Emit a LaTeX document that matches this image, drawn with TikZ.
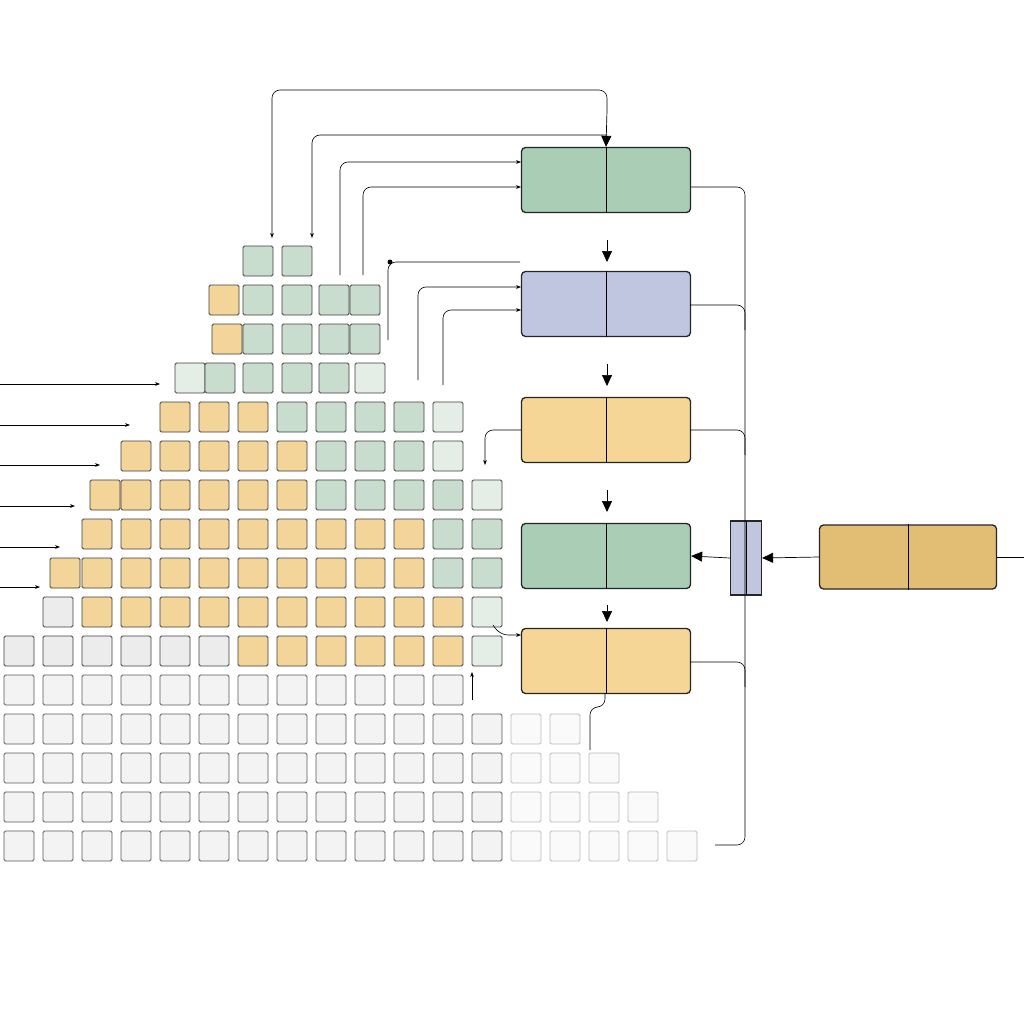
\documentclass[tikz,border=0pt]{standalone}
\usetikzlibrary{arrows.meta}
\begin{document}
\definecolor{bg}{HTML}{A9CEB5}\definecolor{bb}{HTML}{C0C6E0}\definecolor{by}{HTML}{F6D696}\definecolor{bd}{HTML}{E1BE74}
\definecolor{cg}{HTML}{C8DDCD}\definecolor{cy}{HTML}{F3D599}\definecolor{cx}{HTML}{ECECEC}\definecolor{cl}{HTML}{E4EEE6}
\begin{tikzpicture}[x=1pt,y=-1pt,
 blk/.style={draw=black!85,line width=1.3pt,rounded corners=4pt,minimum width=169pt,minimum height=65pt,inner sep=0},
 cell/.style={draw=black!75,line width=0.8pt,rounded corners=1.5pt},
 ar/.style={-{Triangle[length=11pt,width=10pt]},line width=0.7pt},
 sa/.style={-{Stealth[length=5pt]},line width=0.6pt},
 ln/.style={line width=0.6pt,rounded corners=8pt}]
\useasboundingbox (0,0) rectangle (1024,1024);
\fill[white] (0,0) rectangle (1024,1024);
\foreach \y/\L in {
 246/{243/cg,282/cg},
 285/{209/cy,243/cg,282/cg,319/cg,350/cg},
 324/{212/cy,243/cg,282/cg,319/cg,350/cg},
 363/{175/cl,205/cg,243/cg,282/cg,319/cg,355/cl},
 402/{160/cy,199/cy,238/cy,277/cg,316/cg,355/cg,394/cg,433/cl},
 441/{121/cy,160/cy,199/cy,238/cy,277/cy,316/cg,355/cg,394/cg,433/cl},
 480/{90/cy,121/cy,160/cy,199/cy,238/cy,277/cy,316/cg,355/cg,394/cg,433/cg,472/cl},
 519/{82/cy,121/cy,160/cy,199/cy,238/cy,277/cy,316/cy,355/cy,394/cy,433/cg,472/cg},
 558/{50/cy,82/cy,121/cy,160/cy,199/cy,238/cy,277/cy,316/cy,355/cy,394/cy,433/cg,472/cg},
 597/{43/cx,82/cy,121/cy,160/cy,199/cy,238/cy,277/cy,316/cy,355/cy,394/cy,433/cy,472/cl},
 636/{4/cx,43/cx,82/cx,121/cx,160/cx,199/cx,238/cy,277/cy,316/cy,355/cy,394/cy,433/cy,472/cl}}
 {\foreach \x/\c in \L {\filldraw[cell,fill=\c] (\x,\y) rectangle ++(30,30);}}
\foreach \y/\n in {675/12,714/15,753/16,792/17,831/18}
 {\foreach \i in {1,...,\n}{\pgfmathsetmacro\xx{4+39*(\i-1)}
  \pgfmathsetmacro\op{\xx>500?0.35:0.85}
  \filldraw[cell,fill=cx!70,draw opacity=\op,fill opacity=\op] (\xx,\y) rectangle ++(30,30);}}
\node[blk,fill=bg] (b1) at (606,180) {};
\node[blk,fill=bb] (b2) at (606,304) {};
\node[blk,fill=by] (b3) at (606,430) {};
\node[blk,fill=bg] (b4) at (606,556) {};
\node[blk,fill=by] (b5) at (606,661) {};
\foreach \b in {b1,b2,b3,b4,b5}{\draw[line width=0.7pt] (\b.north) -- (\b.south);}
\node[draw=black!85,line width=1.2pt,fill=bb,minimum width=31pt,minimum height=74pt,inner sep=0] (bar) at (746,558) {};
\draw[line width=0.7pt] (746,521) -- (746,595);
\node[blk,fill=bd,minimum width=177pt,minimum height=64pt] (r) at (908,557) {};
\draw[line width=0.7pt] (r.north) -- (r.south);
\coordinate (re) at (1024,557);
\draw[line width=0.7pt] (re) -- (r.east);
\draw[ar] (r.west) -- (bar.east);
\draw[ar] (bar.west) -- (b4.east);
\coordinate (a1) at (607,240);\coordinate (a2) at (607,364);\coordinate (a3) at (607,490);\coordinate (a4) at (607,605);
\draw[ar] (a1) -- ++(0,22);
\draw[ar] (a2) -- ++(0,22);
\draw[ar] (a3) -- ++(0,22);
\draw[ar] (a4) -- ++(0,17);
\draw[ln] (b1.east|-0,187) -- (745,187) -- (745,845) -- (715,845);
\foreach \yy in {305,430,662}{\draw[ln] (690,\yy) -- (745,\yy) -- (745,\yy+25);}
\coordinate (t1) at (272,238);\coordinate (t2) at (312,238);
\draw[sa,rounded corners=8pt] (607,110) -- (607,90) -- (272,90) -- (t1);
\draw[ar] (607,110) -- (b1.north);
\draw[sa,rounded corners=8pt] (607,135) -- (312,135) -- (t2);
\draw[sa,rounded corners=8pt] (340,275) -- (340,162) -- (521,162);
\draw[sa,rounded corners=8pt] (363,275) -- (363,187) -- (521,187);
\draw[ln] (388,340) -- (388,262) -- (520,262);
\fill (390,262) circle (2.5pt);
\draw[sa,rounded corners=8pt] (418,380) -- (418,287) -- (521,287);
\draw[sa,rounded corners=8pt] (443,385) -- (443,310) -- (521,310);
\draw[sa,rounded corners=8pt] (b3.west) -- (485,430) -- (485,465);
\draw[sa,rounded corners=8pt] (493,625) -- (500,635) -- (521,635);
\draw[ln] (605,693) -- (605,707) -- (590,707) -- (590,750);
\draw[sa] (472,700) -- (472,672);
\foreach \yy/\xe in {384/160,425/130,465/100,506/75,547/60,587/40}{\draw[sa] (0,\yy) -- (\xe,\yy);}
\end{tikzpicture}
\end{document}
